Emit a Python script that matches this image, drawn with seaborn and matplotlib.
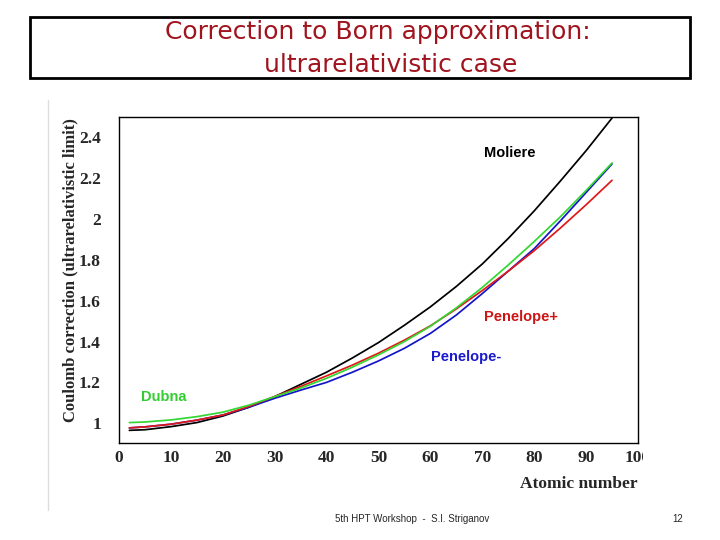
import numpy as np
import matplotlib
matplotlib.use("Agg")
import matplotlib.pyplot as plt
import seaborn as sns
import pandas as pd
from matplotlib.ticker import MultipleLocator
from matplotlib.transforms import Bbox
from matplotlib.patches import Rectangle
from matplotlib.lines import Line2D

# atomic number grid and curves
atomic_number = [2, 5, 10, 15, 20, 25, 30, 35, 40, 45, 50, 55, 60, 65, 70, 75, 80, 85, 90, 95]
moliere = [0.965, 0.968, 0.983, 1.003, 1.035, 1.078, 1.13, 1.19, 1.25, 1.32, 1.395, 1.48,
           1.57, 1.67, 1.78, 1.905, 2.04, 2.185, 2.335, 2.495]
penelope_minus = [0.977, 0.982, 0.995, 1.015, 1.04, 1.078, 1.122, 1.162, 1.20, 1.25, 1.305, 1.367,
                  1.44, 1.53, 1.635, 1.745, 1.855, 1.99, 2.13, 2.27]
penelope_plus = [0.977, 0.982, 0.995, 1.015, 1.04, 1.082, 1.131, 1.18, 1.232, 1.285, 1.343, 1.407,
                 1.477, 1.56, 1.65, 1.745, 1.845, 1.955, 2.07, 2.19]
dubna = [1.003, 1.006, 1.016, 1.032, 1.054, 1.088, 1.13, 1.172, 1.22, 1.275, 1.335, 1.40,
         1.475, 1.565, 1.665, 1.775, 1.89, 2.01, 2.14, 2.275]

series_names = ["Moliere", "Penelope-", "Penelope+", "Dubna"]
line_colors = {"Moliere": "#000000", "Penelope-": "#1515c8", "Penelope+": "#e01818", "Dubna": "#33d633"}
label_colors = {"Moliere": "#000000", "Penelope-": "#1a1acc", "Penelope+": "#cc1515", "Dubna": "#33cc33"}
label_pos = {"Moliere": (70.3, 2.325), "Penelope+": (70.3, 1.52), "Penelope-": (60.1, 1.325), "Dubna": (4.2, 1.13)}

df = pd.DataFrame({
    "Z": atomic_number * 4,
    "corr": moliere + penelope_minus + penelope_plus + dubna,
    "model": [n for n in series_names for _ in atomic_number],
})

sns.set_style("white")
plt.rcParams["font.family"] = ["DejaVu Sans"]

fig = plt.figure(figsize=(7.2, 5.4), dpi=100)
ax = fig.add_axes([119 / 720, 1 - 443 / 540, (638 - 119) / 720, (443 - 117) / 540])

sns.lineplot(data=df, x="Z", y="corr", hue="model", hue_order=series_names,
             palette=line_colors, linewidth=1.25, legend=False, ax=ax)

ax.set_xlim(0, 100)
ax.set_ylim(0.903, 2.5)
ax.xaxis.set_major_locator(MultipleLocator(10))
ax.xaxis.set_minor_locator(MultipleLocator(2))
ax.yaxis.set_major_locator(MultipleLocator(0.2))
ax.yaxis.set_minor_locator(MultipleLocator(0.05))
ax.tick_params(which="both", direction="in", top=False, right=False, color="#777777", width=0.8)
ax.tick_params(which="major", length=7)
ax.tick_params(which="minor", length=4)
ax.tick_params(axis="y", which="major", pad=13)
ax.tick_params(axis="x", which="major", pad=5)
for s in ax.spines.values():
    s.set_color("black")
    s.set_linewidth(1.0)

ax.set_xticks(range(0, 101, 10))
ax.set_xticklabels([str(v) for v in range(0, 101, 10)])
ax.set_yticks([1, 1.2, 1.4, 1.6, 1.8, 2, 2.2, 2.4])
ax.set_yticklabels(["1", "1.2", "1.4", "1.6", "1.8", "2", "2.2", "2.4"])
for lbl in ax.get_xticklabels() + ax.get_yticklabels():
    lbl.set_fontfamily("Liberation Serif")
    lbl.set_fontweight("bold")
    lbl.set_fontsize(12.5)
# the slide image cuts the "100" label at its right edge
last = ax.get_xticklabels()[-1]
last.set_clip_box(Bbox.from_extents(0, 0, 643, 540))
last.set_clip_on(True)

ax.set_xlabel("")
ax.set_ylabel("Coulomb correction (ultrarelativistic limit)", fontfamily="Liberation Serif",
              fontweight="bold", fontsize=12)
ax.yaxis.set_label_coords(-0.079, 0.53)
fig.text(638 / 720, 1 - 484 / 540, "Atomic number", ha="right", va="center",
         fontfamily="Liberation Serif", fontweight="bold", fontsize=12.5)

for name in series_names:
    x, y = label_pos[name]
    ax.text(x, y, name, color=label_colors[name], fontfamily="Liberation Sans",
            fontweight="bold", fontsize=10.5, ha="left", va="center")

# title box
fig.patches.append(Rectangle((30 / 720, 1 - 78 / 540), 660 / 720, 61 / 540, transform=fig.transFigure,
                             fill=False, edgecolor="black", linewidth=2))
fig.text(378 / 720, 1 - 32 / 540, "Correction to Born approximation:", ha="center", va="center",
         color="#a0141e", fontsize=18)
fig.text(391 / 720, 1 - 65 / 540, "ultrarelativistic case", ha="center", va="center",
         color="#a0141e", fontsize=18)

# faint edge of the pasted plot image
fig.lines.append(Line2D([48 / 720, 48 / 720], [1 - 510 / 540, 1 - 100 / 540], transform=fig.transFigure,
                        color="#dddddd", linewidth=1))

fig.text(335 / 720, 1 - 519 / 540, "5th HPT Workshop  -  S.I. Striganov", ha="left", va="center",
         fontfamily="Liberation Sans", fontsize=7)
fig.text(683 / 720, 1 - 519 / 540, "12", ha="right", va="center",
         fontfamily="Liberation Sans", fontsize=7)

fig.savefig("out.png", dpi=100)
